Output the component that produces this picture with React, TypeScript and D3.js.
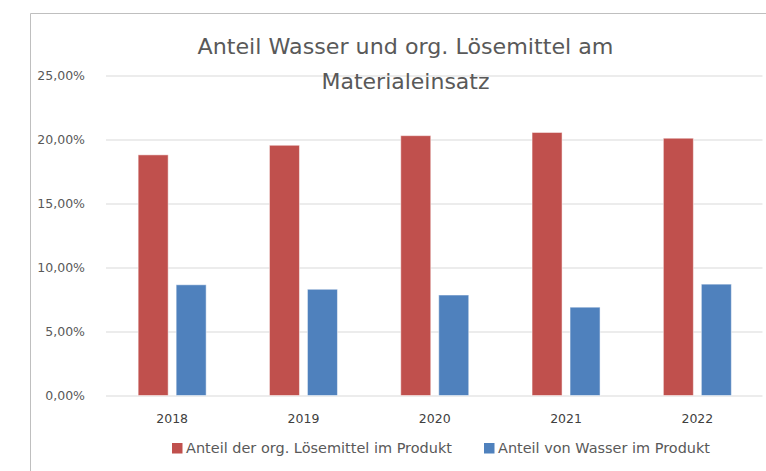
import React, { useRef, useEffect } from "react";
import { select, scaleBand, scaleLinear, axisLeft, axisBottom } from "d3";

const years = ["2018", "2019", "2020", "2021", "2022"];
const seriesKeys = ["solvent", "water"];
const seriesNames = ["Anteil der org. Lösemittel im Produkt", "Anteil von Wasser im Produkt"];
const seriesColors = ["#C0504D", "#4F81BD"];
const solventShare = [0.188, 0.1955, 0.203, 0.2055, 0.201]; // org. Lösemittel
const waterShare = [0.0865, 0.083, 0.0785, 0.069, 0.087]; // Wasser
const yTicks = [0, 0.05, 0.1, 0.15, 0.2, 0.25];
const titleLines = ["Anteil Wasser und org. Lösemittel am", "Materialeinsatz"];

const W = 766;
const H = 471;
const FONT = "'DejaVu Sans', 'Open Sans', sans-serif";

const App: React.FC = () => {
  const svgRef = useRef<SVGSVGElement>(null);

  useEffect(() => {
    const svg = select(svgRef.current!);
    const plot = { left: 106.5, right: 763, top: 75.5, bottom: 395.5 };

    const x0 = scaleBand<string>().domain(years).range([plot.left, plot.right]).padding(0);
    const half = 34; // half of the group of two bars
    const x1 = scaleBand<string>()
      .domain(seriesKeys)
      .range([x0.bandwidth() / 2 - half, x0.bandwidth() / 2 + half])
      .paddingInner(0.21);
    const y = scaleLinear().domain([0, 0.25]).range([plot.bottom, plot.top]);

    const fmt = (v: number) => (v * 100).toFixed(2).replace(".", ",") + "%";

    // y axis with gridlines
    const yAxis = axisLeft(y)
      .tickValues(yTicks)
      .tickSize(-(plot.right - plot.left))
      .tickPadding(21)
      .tickFormat((d) => fmt(d as number));
    const gy = svg.select<SVGGElement>(".y-axis")
      .attr("transform", `translate(${plot.left - 0.5},0)`)
      .call(yAxis);
    gy.select(".domain").remove();
    gy.selectAll(".tick line").attr("stroke", "#d9d9d9").attr("stroke-width", 1);
    gy.selectAll(".tick text")
      .attr("fill", "#595959")
      .style("font-family", FONT)
      .style("font-size", "12.5px");

    // x axis
    const xAxis = axisBottom(x0).tickSize(0).tickPadding(19);
    const gx = svg.select<SVGGElement>(".x-axis")
      .attr("transform", `translate(0,${plot.bottom})`)
      .call(xAxis);
    gx.select(".domain").remove();
    gx.selectAll(".tick text")
      .attr("fill", "#404040")
      .style("font-family", FONT)
      .style("font-size", "12.5px");

    const rows = years.map((yr, i) => ({ year: yr, values: [solventShare[i], waterShare[i]] }));

    svg.select<SVGGElement>(".bars")
      .selectAll<SVGGElement, typeof rows[number]>("g")
      .data(rows)
      .join("g")
      .attr("transform", (d) => `translate(${x0(d.year)},0)`)
      .selectAll("rect")
      .data((d) => d.values.map((v, k) => ({ key: seriesKeys[k], v, k })))
      .join("rect")
      .attr("x", (d) => x1(d.key)!)
      .attr("width", x1.bandwidth())
      .attr("y", (d) => y(d.v))
      .attr("height", (d) => y(0) - y(d.v))
      .attr("fill", (d) => seriesColors[d.k])
      .attr("stroke", "#ffffff")
      .attr("stroke-opacity", 0.5)
      .attr("stroke-width", 1);
  }, []);

  const titleWidths = [416, 168];
  const legendX = [172, 484];
  const legendWidths = [266, 212];

  return (
    <svg
      ref={svgRef}
      width={W}
      height={H}
      style={{ position: "absolute", left: 0, top: 0, background: "#fff" }}
    >
      <rect x={0} y={0} width={W} height={H} fill="#fff" />
      {/* chart frame */}
      <path d={`M30.5,${H} V13.5 H${W}`} fill="none" stroke="#bfbfbf" strokeWidth={1} />
      <g className="y-axis" />
      <g className="x-axis" />
      <g className="bars" />
      {/* title */}
      {titleLines.map((t, i) => (
        <text
          key={t}
          x={405.5}
          y={53.5 + i * 35}
          textAnchor="middle"
          textLength={titleWidths[i]}
          lengthAdjust="spacingAndGlyphs"
          style={{ fontFamily: FONT, fontSize: "22px", fill: "#595959" }}
        >
          {t}
        </text>
      ))}
      {/* legend */}
      {seriesNames.map((name, i) => (
        <g key={name} transform={`translate(${legendX[i]},443)`}>
          <rect x={0} y={0} width={10.5} height={10.5} fill={seriesColors[i]} />
          <text
            x={14}
            y={9.5}
            textLength={legendWidths[i]}
            lengthAdjust="spacingAndGlyphs"
            style={{ fontFamily: FONT, fontSize: "13.5px", fill: "#595959" }}
          >
            {name}
          </text>
        </g>
      ))}
    </svg>
  );
};

export default App;
